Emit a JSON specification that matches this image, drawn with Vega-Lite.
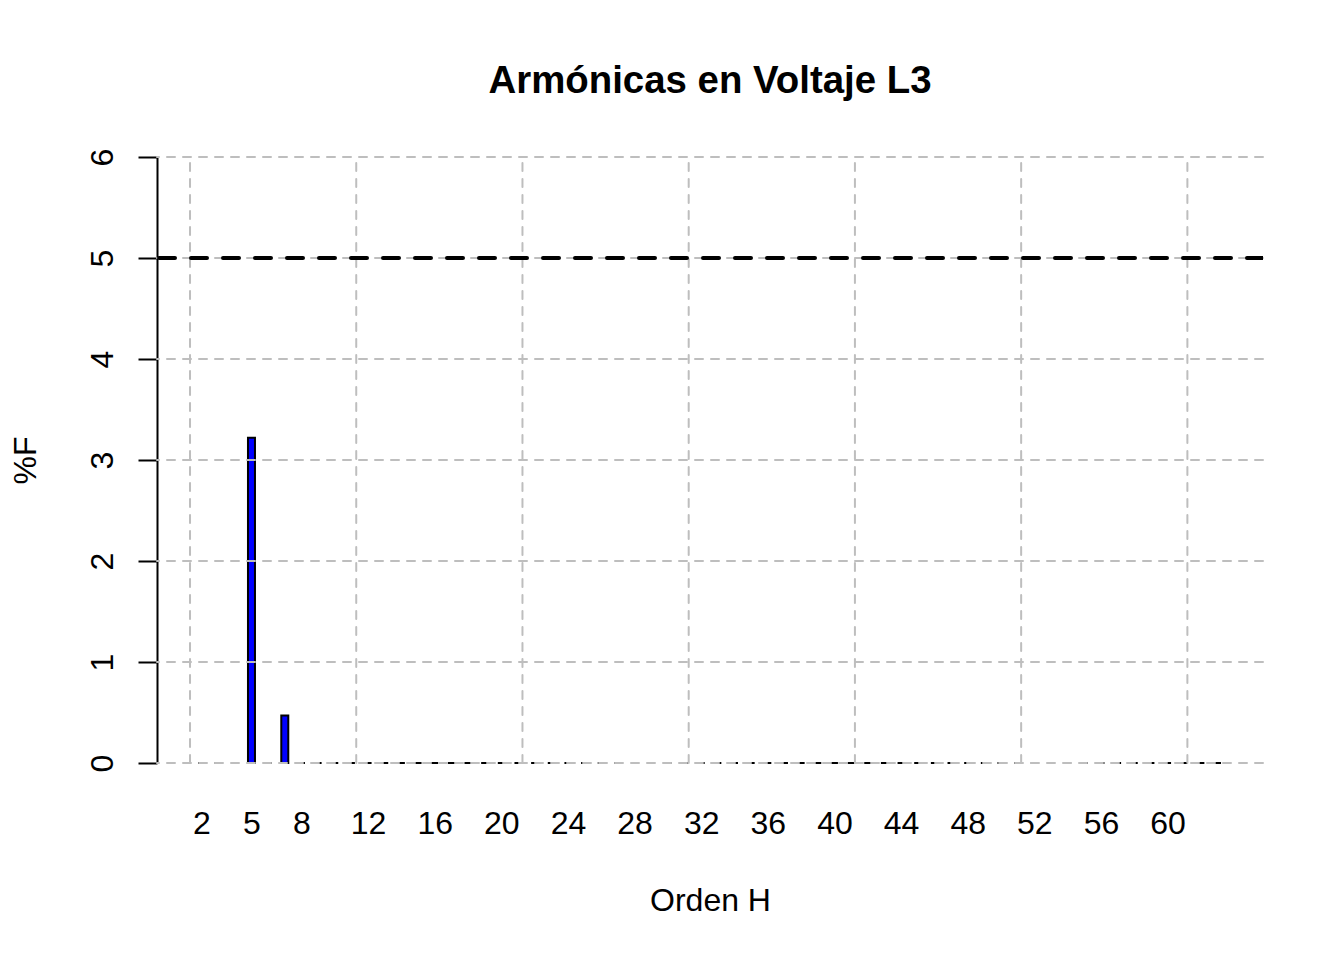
{
  "$schema": "https://vega.github.io/schema/vega-lite/v6.json",
  "width": 1106,
  "height": 606,
  "autosize": {"type": "none"},
  "padding": {"left": 157, "top": 157, "right": 81, "bottom": 197},
  "background": "white",
  "config": {"view": {"stroke": null}, "font": "Liberation Sans"},
  "title": {
    "text": "Armónicas en Voltaje L3",
    "font": "Liberation Sans",
    "fontSize": 38.4,
    "fontWeight": "bold",
    "color": "black",
    "anchor": "middle",
    "frame": "group",
    "baseline": "alphabetic",
    "offset": 17
  },
  "datasets": {
    "armonicos": [
      {"orden": 2, "pct": 0}, {"orden": 3, "pct": 0}, {"orden": 4, "pct": 0}, {"orden": 5, "pct": 3.22},
      {"orden": 6, "pct": 0}, {"orden": 7, "pct": 0.47}, {"orden": 8, "pct": 0}, {"orden": 9, "pct": 0},
      {"orden": 10, "pct": 0}, {"orden": 11, "pct": 0}, {"orden": 12, "pct": 0}, {"orden": 13, "pct": 0},
      {"orden": 14, "pct": 0}, {"orden": 15, "pct": 0}, {"orden": 16, "pct": 0}, {"orden": 17, "pct": 0},
      {"orden": 18, "pct": 0}, {"orden": 19, "pct": 0}, {"orden": 20, "pct": 0}, {"orden": 21, "pct": 0},
      {"orden": 22, "pct": 0}, {"orden": 23, "pct": 0}, {"orden": 24, "pct": 0}, {"orden": 25, "pct": 0},
      {"orden": 26, "pct": 0}, {"orden": 27, "pct": 0}, {"orden": 28, "pct": 0}, {"orden": 29, "pct": 0},
      {"orden": 30, "pct": 0}, {"orden": 31, "pct": 0}, {"orden": 32, "pct": 0}, {"orden": 33, "pct": 0},
      {"orden": 34, "pct": 0}, {"orden": 35, "pct": 0}, {"orden": 36, "pct": 0}, {"orden": 37, "pct": 0},
      {"orden": 38, "pct": 0}, {"orden": 39, "pct": 0}, {"orden": 40, "pct": 0}, {"orden": 41, "pct": 0},
      {"orden": 42, "pct": 0}, {"orden": 43, "pct": 0}, {"orden": 44, "pct": 0}, {"orden": 45, "pct": 0},
      {"orden": 46, "pct": 0}, {"orden": 47, "pct": 0}, {"orden": 48, "pct": 0}, {"orden": 49, "pct": 0},
      {"orden": 50, "pct": 0}, {"orden": 51, "pct": 0}, {"orden": 52, "pct": 0}, {"orden": 53, "pct": 0},
      {"orden": 54, "pct": 0}, {"orden": 55, "pct": 0}, {"orden": 56, "pct": 0}, {"orden": 57, "pct": 0},
      {"orden": 58, "pct": 0}, {"orden": 59, "pct": 0}, {"orden": 60, "pct": 0}, {"orden": 61, "pct": 0},
      {"orden": 62, "pct": 0}, {"orden": 63, "pct": 0}
    ],
    "gridV": [
      {"orden": 1.31, "desde": 0, "hasta": 6}, {"orden": 11.29, "desde": 0, "hasta": 6},
      {"orden": 21.27, "desde": 0, "hasta": 6}, {"orden": 31.25, "desde": 0, "hasta": 6},
      {"orden": 41.23, "desde": 0, "hasta": 6}, {"orden": 51.21, "desde": 0, "hasta": 6},
      {"orden": 61.19, "desde": 0, "hasta": 6}
    ],
    "gridH": [
      {"pct": 0}, {"pct": 1}, {"pct": 2}, {"pct": 3}, {"pct": 4}, {"pct": 5}, {"pct": 6}
    ],
    "limite": [{"pct": 5}]
  },
  "encoding": {
    "x": {
      "field": "orden",
      "type": "quantitative",
      "scale": {"domain": [-0.672, 65.73], "nice": false, "zero": false, "padding": 0},
      "axis": {
        "values": [2, 5, 8, 12, 16, 20, 24, 28, 32, 36, 40, 44, 48, 52, 56, 60],
        "title": "Orden H",
        "domain": false,
        "ticks": false,
        "tickSize": 0,
        "grid": false,
        "labelFont": "Liberation Sans",
        "labelFontSize": 32,
        "labelColor": "black",
        "labelPadding": 70.5,
        "labelBaseline": "alphabetic",
        "labelAngle": 0,
        "labelFlush": false,
        "labelOverlap": false,
        "titleFont": "Liberation Sans",
        "titleFontSize": 32,
        "titleFontWeight": "normal",
        "titleColor": "black",
        "titleY": 147,
        "titleBaseline": "alphabetic"
      }
    },
    "y": {
      "field": "pct",
      "type": "quantitative",
      "scale": {"domain": [0, 6], "nice": false, "zero": false, "padding": 0},
      "axis": {
        "values": [0, 1, 2, 3, 4, 5, 6],
        "title": "%F",
        "domainColor": "black",
        "domainWidth": 2,
        "tickColor": "black",
        "tickWidth": 2,
        "tickSize": 19,
        "grid": false,
        "labelAngle": -90,
        "labelAlign": "center",
        "labelBaseline": "alphabetic",
        "labelPadding": 26,
        "labelFont": "Liberation Sans",
        "labelFontSize": 32,
        "labelColor": "black",
        "labelFlush": false,
        "labelOverlap": false,
        "titleFont": "Liberation Sans",
        "titleFontSize": 32,
        "titleFontWeight": "normal",
        "titleColor": "black",
        "titleAngle": -90,
        "titleX": -122,
        "titleY": 303,
        "titleAlign": "center",
        "titleBaseline": "alphabetic"
      }
    }
  },
  "layer": [
    {
      "data": {"name": "armonicos"},
      "mark": {"type": "bar", "width": 7, "fill": "#0000FF", "stroke": "black", "strokeWidth": 2}
    },
    {
      "data": {"name": "gridH"},
      "mark": {"type": "rule", "color": "#BEBEBE", "strokeWidth": 2, "strokeDash": [8, 8], "strokeCap": "round"},
      "encoding": {
        "x": null
      }
    },
    {
      "data": {"name": "gridV"},
      "mark": {"type": "rule", "color": "#BEBEBE", "strokeWidth": 2, "strokeDash": [8, 8], "strokeCap": "round"},
      "encoding": {
        "y": {"field": "desde", "type": "quantitative"},
        "y2": {"field": "hasta"}
      }
    },
    {
      "data": {"name": "limite"},
      "mark": {"type": "rule", "color": "black", "strokeWidth": 4, "strokeDash": [16, 16], "strokeCap": "round", "clip": true},
      "encoding": {
        "x": null
      }
    }
  ]
}
